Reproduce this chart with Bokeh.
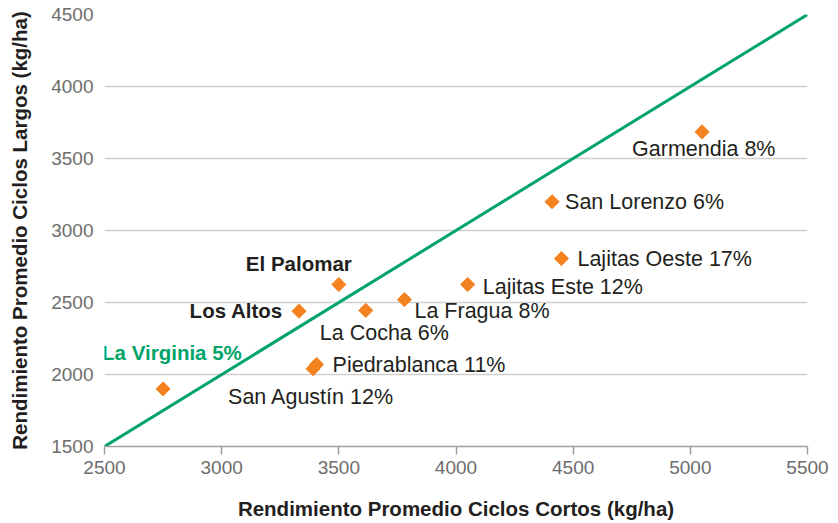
from bokeh.plotting import figure
from bokeh.models import ColumnDataSource, Range1d, FixedTicker
from bokeh.embed import file_html
from bokeh.resources import INLINE
from bokeh.core.properties import value

# ---- data ----
zones = ["Garmendia 8%", "San Lorenzo 6%", "Lajitas Oeste 17%", "Lajitas Este 12%",
         "La Fragua 8%", "La Cocha 6%", "Piedrablanca 11%", "San Agustín 12%",
         "La Virginia 5%", "Los Altos", "El Palomar"]
ciclos_cortos = [5050, 4410, 4450, 4050, 3780, 3615, 3405, 3390, 2750, 3330, 3500]
ciclos_largos = [3685, 3200, 2805, 2625, 2520, 2445, 2070, 2040, 1900, 2440, 2625]
line_x = [2500, 5500]
line_y = [1500, 4500]
x_ticks = [2500, 3000, 3500, 4000, 4500, 5000, 5500]
y_ticks = [1500, 2000, 2500, 3000, 3500, 4000, 4500]

# ---- label styling (offsets in screen px) ----
lab_dx = [-70, 13, 16, 15, 10, -46, 16, -85, -61, -16, -93]
lab_dy = [17, 0, 0, 2, 11, 23, 1, 28, -36, -1, -21]
lab_align = ["left"] * 9 + ["right", "left"]
lab_style = ["normal"] * 8 + ["bold", "bold", "bold"]
lab_color = ["#231f20"] * 8 + ["#00a468", "#231f20", "#231f20"]
lab_size = ["21.5px"] * 8 + ["20.5px", "20.5px", "20.5px"]

GREEN = "#00a468"
ORANGE = "#f58220"
FONT = "Liberation Sans"

src = ColumnDataSource(dict(x=ciclos_cortos, y=ciclos_largos, name=zones,
                            dx=lab_dx, dy=lab_dy, align=lab_align,
                            style=lab_style, color=lab_color, size=lab_size))

p = figure(width=838, height=523, output_backend="svg", toolbar_location=None,
           x_range=Range1d(line_x[0], line_x[1]), y_range=Range1d(line_y[0], line_y[1]),
           min_border_left=104, min_border_right=31, min_border_top=14, min_border_bottom=77)
p.outline_line_color = None
p.background_fill_color = "white"
p.border_fill_color = "white"

p.xgrid.grid_line_color = None
p.ygrid.grid_line_color = "#cfcfcf"
p.ygrid.grid_line_width = 1.5
p.ygrid.ticker = FixedTicker(ticks=y_ticks)

p.xaxis.ticker = FixedTicker(ticks=x_ticks)
p.yaxis.ticker = FixedTicker(ticks=y_ticks)

p.xaxis.axis_label = "Rendimiento Promedio Ciclos Cortos (kg/ha)"
p.yaxis.axis_label = "Rendimiento Promedio Ciclos Largos (kg/ha)"
for ax in (p.xaxis, p.yaxis):
    ax.axis_label_text_font = FONT
    ax.axis_label_text_font_style = "bold"
    ax.axis_label_text_font_size = "20.5px"
    ax.axis_label_text_color = "#231f20"
    ax.major_label_text_font = FONT
    ax.major_label_text_font_size = "19px"
    ax.major_label_text_color = "#6d6d6d"
    ax.minor_tick_line_color = None

p.xaxis.axis_line_color = "#a0a0a0"
p.xaxis.axis_line_width = 1.5
p.xaxis.major_tick_line_color = "#a0a0a0"
p.xaxis.major_tick_line_width = 1.5
p.xaxis.major_tick_out = 8
p.xaxis.major_tick_in = 0
p.xaxis.major_label_standoff = 6
p.xaxis.axis_label_standoff = 20

p.yaxis.axis_line_color = None
p.yaxis.major_tick_line_color = None
p.yaxis.major_tick_out = 0
p.yaxis.major_tick_in = 0
p.yaxis.major_label_standoff = 11
p.yaxis.axis_label_standoff = 17

p.line(line_x, line_y, line_color=GREEN, line_width=3)

p.scatter("x", "y", source=src, marker="square", size=10, angle=0.785398,
          fill_color=ORANGE, line_color=ORANGE)

p.text("x", "y", text="name", source=src, x_offset="dx", y_offset="dy",
       text_align="align", text_baseline="middle", text_font=value(FONT),
       text_font_style="style", text_color="color", text_font_size="size")

open("out.html", "w").write(file_html(p, INLINE))
